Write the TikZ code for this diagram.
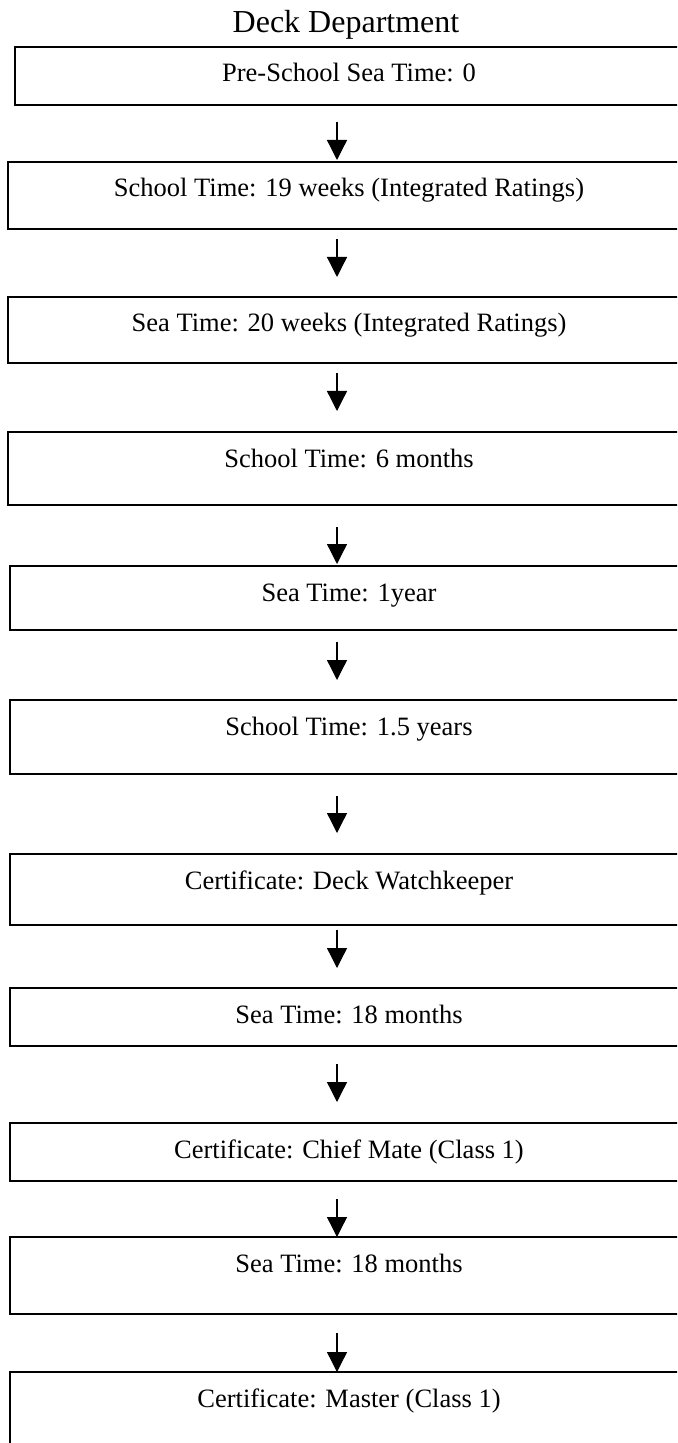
\documentclass[tikz,border=0pt]{standalone}
\usepackage{fontspec}
\setmainfont{Liberation Serif}
\usetikzlibrary{arrows.meta}
\begin{document}
\begin{tikzpicture}[x=0.5pt,y=-0.5pt,
  boxstyle/.style={draw=black, line width=1pt, rectangle, inner sep=0pt, outer sep=0pt},
  lbl/.style={font=\fontsize{13.25pt}{15pt}\selectfont, anchor=base, inner sep=0pt},
  ttl/.style={font=\fontsize{16pt}{19pt}\selectfont, anchor=base, inner sep=0pt},
  arr/.style={line width=0.65pt, -{Triangle[width=10pt,length=10pt]}}]
\useasboundingbox (0,0) rectangle (677,1443);
\clip (0,0) rectangle (677,1443);
\node[ttl] (title) at (346,33) {Deck Department};
\foreach \n/\l/\t/\b/\txt in {
  1/15/47/105/{Pre-School Sea Time: 0},
  2/8/162/229/{School Time: 19 weeks (Integrated Ratings)},
  3/8/297/363/{Sea Time: 20 weeks (Integrated Ratings)},
  4/8/432/505/{School Time: 6 months},
  5/10/566/630/{Sea Time: 1year},
  6/10/700/774/{School Time: 1.5 years},
  7/10/854/925/{Certificate: Deck Watchkeeper},
  8/10/988/1046/{Sea Time: 18 months},
  9/10/1123/1181/{Certificate: Chief Mate (Class 1)},
  10/10/1237/1314/{Sea Time: 18 months},
  11/10/1372/1470/{Certificate: Master (Class 1)}}{
  \node[boxstyle, anchor=north west, minimum width={(690-\l)*0.5pt}, minimum height={(\b-\t)*0.5pt}] (b\n) at (\l,\t) {};
  \node[lbl] (t\n) at (349,\t+35) {\txt};
}
\foreach \n/\s/\e in {1/122/160, 2/239/277, 3/373/411, 4/527/564, 5/642/680,
  6/796/833, 7/930/968, 8/1064/1102, 9/1199/1237, 10/1333/1372}{
  \coordinate (s\n) at (337,\s);
  \coordinate (e\n) at (337,\e);
  \draw[arr] (s\n) -- (e\n);
}
\end{tikzpicture}
\end{document}
